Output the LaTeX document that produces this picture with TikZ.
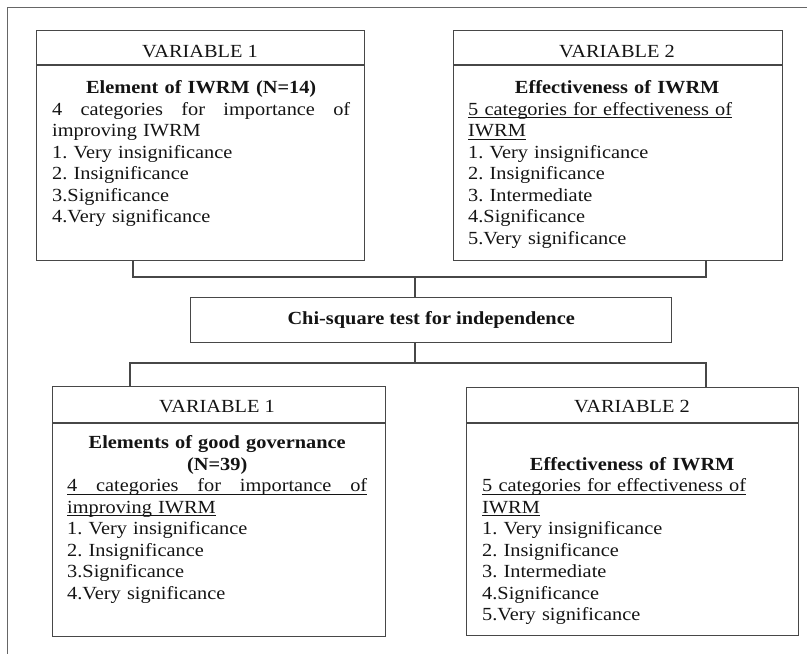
\documentclass[tikz,border=0pt]{standalone}
\usepackage{fontspec}
\setmainfont[FakeStretch=1.1]{Liberation Serif}
\frenchspacing
\newsavebox\ulbox
\newcommand\ulx[1]{\leavevmode\sbox\ulbox{#1}\rlap{\rule[-2.6pt]{\wd\ulbox}{0.8pt}}\usebox\ulbox}
\newcommand\jline[1]{\leavevmode\hbox to\linewidth{#1}}
\tikzset{
  frame/.style={draw=black!72, line width=1.4pt, inner sep=0pt, anchor=north west},
  link/.style={draw=black!72, line width=1.4pt},
  body/.style={anchor=north west, inner sep=0pt, align=left, font=\fontsize{18.5}{21.5}\selectfont\frenchspacing, text=black!92},
  head/.style={anchor=base, inner sep=0pt, font=\fontsize{18.5}{21.5}\selectfont, text=black!92},
}
\begin{document}
\begin{tikzpicture}[x=1pt,y=-1pt]
\useasboundingbox[fill=white] (0,0) rectangle (807,654);
\draw[link, line width=1pt, draw=black!60] (7,654) -- (7,7) -- (807,7);
% boxes
\node[frame, minimum width=328pt, minimum height=230pt] (v1a) at (36,30) {};
\node[frame, minimum width=329pt, minimum height=230pt] (v2a) at (453,30) {};
\node[frame, minimum width=481pt, minimum height=45pt, font=\fontsize{18.5}{21.5}\selectfont\bfseries, text=black!92] (chi) at (190,297) {Chi-square test for independence};
\node[frame, minimum width=333pt, minimum height=250pt] (v1b) at (52,386) {};
\node[frame, minimum width=332pt, minimum height=248pt] (v2b) at (466,387) {};
% header lines
\draw[link] (v1a.west |- 0,65) -- (v1a.east |- 0,65);
\draw[link] (v2a.west |- 0,65) -- (v2a.east |- 0,65);
\draw[link] (v1b.west |- 0,423) -- (v1b.east |- 0,423);
\draw[link] (v2b.west |- 0,423) -- (v2b.east |- 0,423);
% headers
\node[head] (h1a) at (200,57.5) {VARIABLE 1};
\node[head] (h2a) at (617,57.5) {VARIABLE 2};
\node[head] (h1b) at (217,412) {VARIABLE 1};
\node[head] (h2b) at (632,412) {VARIABLE 2};
% bodies
\node[body, text width=298pt] (t1a) at (52,78.5) {\strut\makebox[\linewidth]{\bfseries Element of IWRM (N=14)}\\
\jline{4\hfill categories\hfill for\hfill importance\hfill of}\\
improving IWRM\\
1. Very insignificance\\
2. Insignificance\\
3.Significance\\
4.Very significance};
\node[body, text width=300pt] (t2a) at (468,78.5) {\strut\makebox[298pt]{\bfseries Effectiveness of IWRM}\\
\ulx{5 categories for effectiveness of}\\
\ulx{IWRM}\\
1. Very insignificance\\
2. Insignificance\\
3. Intermediate\\
4.Significance\\
5.Very significance};
\node[body, text width=300pt] (t1b) at (67,433.5) {\strut\makebox[\linewidth]{\bfseries Elements of good governance}\\
\makebox[\linewidth]{\bfseries (N=39)}\\
\ulx{\jline{4\hfill categories\hfill for\hfill importance\hfill of}}\\
\ulx{improving IWRM}\\
1. Very insignificance\\
2. Insignificance\\
3.Significance\\
4.Very significance};
\node[body, text width=300pt] (t2b) at (482,455) {\strut\makebox[300pt]{\bfseries Effectiveness of IWRM}\\
\ulx{5 categories for effectiveness of}\\
\ulx{IWRM}\\
1. Very insignificance\\
2. Insignificance\\
3. Intermediate\\
4.Significance\\
5.Very significance};
% connectors
\coordinate (j1) at (415,277);
\coordinate (j2) at (415,363);
\draw[link] (133,0 |- v1a.south) |- (j1) -| (706,0 |- v2a.south);
\draw[link] (j1) -- (j1 |- chi.north);
\draw[link] (j2 |- chi.south) -- (j2);
\draw[link] (130,0 |- v1b.north) |- (j2) -| (706,0 |- v2b.north);
\end{tikzpicture}
\end{document}
